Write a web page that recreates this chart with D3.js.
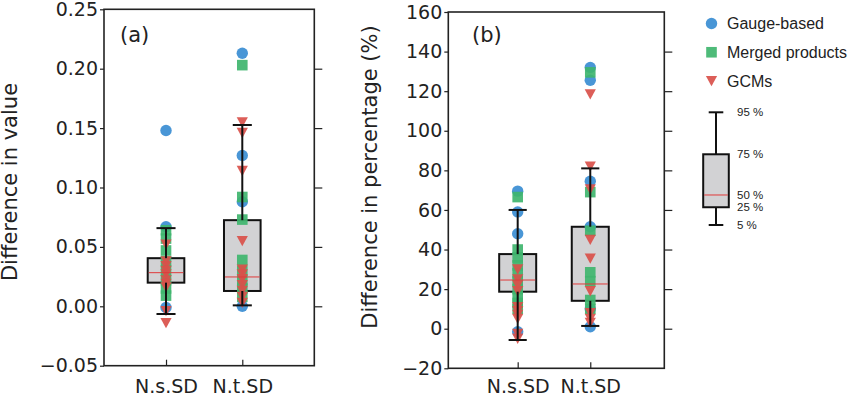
<!DOCTYPE html>
<html>
<head>
<meta charset="utf-8">
<script src="https://cdn.jsdelivr.net/npm/d3@7"></script>
<style>
  body { margin: 0; background: #fff; }
</style>
</head>
<body>
<div id="chart"></div>
<script>
// categories on the x axis
const categories = ["N.s.SD", "N.t.SD"]

// panel (a): difference in value, one array per group and category
const valueGaugeS = [0.148, 0.067, -0.001]
const valueGaugeT = [0.213, 0.127, 0.088, 0.000]
const valueMergedS = [0.064, 0.057, 0.047, 0.038, 0.030, 0.022, 0.015, 0.009]
const valueMergedT = [0.203, 0.092, 0.073, 0.039, 0.030, 0.022, 0.015, 0.008]
const valueGcmS = [0.052, 0.038, 0.034, 0.030, 0.027, 0.022, 0.019, 0.016, -0.004, -0.014]
const valueGcmT = [0.155, 0.146, 0.114, 0.055, 0.031, 0.027, 0.023, 0.018, 0.013, 0.008, 0.003]
// box stats: 5, 25, 50, 75, 95 %
const valueBoxS = [-0.0065, 0.0199, 0.0283, 0.0405, 0.0658]
const valueBoxT = [0.0008, 0.0129, 0.0247, 0.0725, 0.1526]
const valueTicks = [-0.05, 0.00, 0.05, 0.10, 0.15, 0.20, 0.25]

// panel (b): difference in percentage
const pctGaugeS = [69.5, 59, 48, -1.5]
const pctGaugeT = [132, 125.5, 74.5, 51.5, 10, 1]
const pctMergedS = [66.5, 40, 36, 32, 28, 24, 20, 16, 13, 10]
const pctMergedT = [129.5, 69, 49.5, 28.5, 24, 14.5, 10]
const pctGcmS = [30, 25, 22, 19, 11, 9, 7, 5, -2.5, -5]
const pctGcmT = [118.5, 82, 70.5, 45, 35.5, 19, 8, 5, 3]
const pctBoxS = [-5.7, 18.7, 24.6, 37.7, 60]
const pctBoxT = [1.4, 14.1, 22.6, 51.5, 81]
const pctTicks = [-20, 0, 20, 40, 60, 80, 100, 120, 140, 160]

// legend
const legendLabels = ["Gauge-based", "Merged products", "GCMs"]
const legendBox = [0, 12.6, 21.3, 50.2, 80]          // schematic box in the legend
const legendBoxLabels = ["5 %", "25 %", "50 %", "75 %", "95 %"]

const colors = ["#3a8dd2", "#3fb56e", "#d9504a"]
const shapes = ["circle", "square", "triangle"]

const W = 850, H = 396

const svg = d3.select("#chart")
  .append("svg")
    .attr("width", W)
    .attr("height", H)
    .style("font-family", "'DejaVu Sans', sans-serif")

// draw one marker of a given shape
function drawMarker(g, shape, cx, cy, color) {
  if (shape === "circle") {
    g.append("circle").attr("cx", cx).attr("cy", cy).attr("r", 5.7)
      .attr("fill", color).attr("opacity", 0.92)
  } else if (shape === "square") {
    g.append("rect").attr("x", cx - 5.3).attr("y", cy - 5.3)
      .attr("width", 10.6).attr("height", 10.6)
      .attr("fill", color).attr("opacity", 0.92)
  } else {
    g.append("path")
      .attr("d", `M${cx - 5.6},${cy - 5}L${cx + 5.6},${cy - 5}L${cx},${cy + 5.3}Z`)
      .attr("fill", color).attr("opacity", 0.92)
  }
}

function drawPanel(cfg) {
  const g = svg.append("g")
  const x = d3.scaleLinear().domain(cfg.xDomain).range([cfg.left, cfg.right])
  const y = d3.scaleLinear().domain(cfg.yDomain).range([cfg.bottom, cfg.top])

  // boxes first
  cfg.boxes.forEach((b, i) => {
    g.append("rect")
      .attr("x", x(i + 1 - cfg.boxW))
      .attr("y", y(b[3]))
      .attr("width", x(i + 1 + cfg.boxW) - x(i + 1 - cfg.boxW))
      .attr("height", y(b[1]) - y(b[3]))
      .attr("fill", "#d2d2d4")
      .attr("stroke", "#111")
      .attr("stroke-width", 2)
  })

  // scatter points: gauge, merged, gcm
  cfg.points.forEach((grp, k) => {
    grp.forEach((vals, i) => {
      vals.forEach(v => drawMarker(g, shapes[k], x(i + 1), y(v), colors[k]))
    })
  })

  // whiskers, caps and median on top
  cfg.boxes.forEach((b, i) => {
    const cx = x(i + 1)
    g.append("line").attr("x1", cx).attr("x2", cx)
      .attr("y1", y(b[4])).attr("y2", y(b[3]))
      .attr("stroke", "#111").attr("stroke-width", 2)
    g.append("line").attr("x1", cx).attr("x2", cx)
      .attr("y1", y(b[1])).attr("y2", y(b[0]))
      .attr("stroke", "#111").attr("stroke-width", 2)
    ;[b[0], b[4]].forEach(v => {
      g.append("line")
        .attr("x1", x(i + 1 - cfg.capW)).attr("x2", x(i + 1 + cfg.capW))
        .attr("y1", y(v)).attr("y2", y(v))
        .attr("stroke", "#111").attr("stroke-width", 2)
    })
    g.append("line")
      .attr("x1", x(i + 1 - cfg.boxW) + 1).attr("x2", x(i + 1 + cfg.boxW) - 1)
      .attr("y1", y(b[2])).attr("y2", y(b[2]))
      .attr("stroke", "#e03a3a").attr("stroke-width", 1)
  })

  // frame
  g.append("rect")
    .attr("x", cfg.left).attr("y", cfg.top)
    .attr("width", cfg.right - cfg.left).attr("height", cfg.bottom - cfg.top)
    .attr("fill", "none").attr("stroke", "#222").attr("stroke-width", 1.6)

  // left axis (ticks out), right ticks in
  const yAxis = g.append("g")
    .attr("transform", `translate(${cfg.left},0)`)
    .call(d3.axisLeft(y).tickValues(cfg.ticks).tickFormat(d3.format(cfg.fmt))
      .tickSizeInner(4).tickSizeOuter(0).tickPadding(2))
  yAxis.select(".domain").remove()
  yAxis.selectAll("line").attr("stroke", "#222").attr("stroke-width", 1.2)
  yAxis.selectAll("text").attr("font-size", 19).attr("fill", "#222")
    .attr("font-family", "'DejaVu Sans', sans-serif")

  const yRight = g.append("g")
    .attr("transform", `translate(${cfg.right},0)`)
    .call(d3.axisLeft(y).tickValues(cfg.ticks.slice(1, -1)).tickFormat("")
      .tickSizeInner(-8).tickSizeOuter(0))
  yRight.select(".domain").remove()
  yRight.selectAll("line").attr("stroke", "#222").attr("stroke-width", 1.2)

  // bottom axis, ticks in
  const xAxis = g.append("g")
    .attr("transform", `translate(0,${cfg.bottom})`)
    .call(d3.axisBottom(x).tickValues([1, 2]).tickFormat((d, i) => categories[i])
      .tickSizeInner(-6).tickSizeOuter(0).tickPadding(cfg.xPad))
  xAxis.select(".domain").remove()
  xAxis.selectAll("line").attr("stroke", "#222").attr("stroke-width", 1.2)
  xAxis.selectAll("text").attr("font-size", 19).attr("fill", "#222")
    .attr("font-family", "'DejaVu Sans', sans-serif")

  // y label
  g.append("text")
    .attr("transform", `translate(${cfg.labelX},${cfg.labelY}) rotate(-90)`)
    .attr("text-anchor", "middle")
    .attr("font-size", 21)
    .attr("fill", "#222")
    .text(cfg.label)

  // panel tag
  g.append("text")
    .attr("x", cfg.tagX).attr("y", 42)
    .attr("font-size", 21)
    .attr("fill", "#222")
    .text(cfg.tag)
}

drawPanel({
  left: 104, right: 314.3, top: 9.3, bottom: 365.7,
  xDomain: [0.187, 2.944], yDomain: [-0.05, 0.25],
  ticks: valueTicks, fmt: ".2f", xPad: 14,
  boxW: 0.24, capW: 0.125,
  boxes: [valueBoxS, valueBoxT],
  points: [[valueGaugeS, valueGaugeT], [valueMergedS, valueMergedT], [valueGcmS, valueGcmT]],
  label: "Difference in value", labelX: 17, labelY: 182,
  tag: "(a)", tagX: 120
})

drawPanel({
  left: 448.3, right: 664.3, top: 12, bottom: 368.3,
  xDomain: [0.044, 3.02], yDomain: [-20, 160],
  ticks: pctTicks, fmt: "d", xPad: 11,
  boxW: 0.255, capW: 0.125,
  boxes: [pctBoxS, pctBoxT],
  points: [[pctGaugeS, pctGaugeT], [pctMergedS, pctMergedT], [pctGcmS, pctGcmT]],
  label: "Difference in percentage (%)", labelX: 377, labelY: 177,
  tag: "(b)", tagX: 472
})

// legend for the marker groups
const leg = svg.append("g")
  .style("font-family", "'Liberation Sans', Arial, sans-serif")
const legY = d3.scalePoint().domain(legendLabels).range([23.5, 81])
legendLabels.forEach((name, k) => {
  drawMarker(leg, shapes[k], 711.5, legY(name), colors[k])
  leg.append("text")
    .attr("x", 727).attr("y", legY(name) + 5.5)
    .attr("font-size", 16).attr("fill", "#222")
    .text(name)
})

// legend box schematic
const ly = d3.scaleLinear().domain([0, 80]).range([225, 112.3])
const lcx = 716
leg.append("line").attr("x1", lcx).attr("x2", lcx)
  .attr("y1", ly(legendBox[4])).attr("y2", ly(legendBox[0]))
  .attr("stroke", "#111").attr("stroke-width", 2)
leg.append("rect")
  .attr("x", lcx - 12.8).attr("y", ly(legendBox[3]))
  .attr("width", 25.6).attr("height", ly(legendBox[1]) - ly(legendBox[3]))
  .attr("fill", "#d2d2d4").attr("stroke", "#111").attr("stroke-width", 2)
leg.append("line").attr("x1", lcx - 11.8).attr("x2", lcx + 11.8)
  .attr("y1", ly(legendBox[2])).attr("y2", ly(legendBox[2]))
  .attr("stroke", "#e03a3a").attr("stroke-width", 1)
;[legendBox[0], legendBox[4]].forEach(v => {
  leg.append("line").attr("x1", lcx - 7.3).attr("x2", lcx + 7.3)
    .attr("y1", ly(v)).attr("y2", ly(v))
    .attr("stroke", "#111").attr("stroke-width", 2)
})
legendBox.forEach((v, i) => {
  leg.append("text")
    .attr("x", 737).attr("y", ly(v) + 4)
    .attr("font-size", 11.5).attr("fill", "#222")
    .text(legendBoxLabels[i])
})
</script>
</body>
</html>
